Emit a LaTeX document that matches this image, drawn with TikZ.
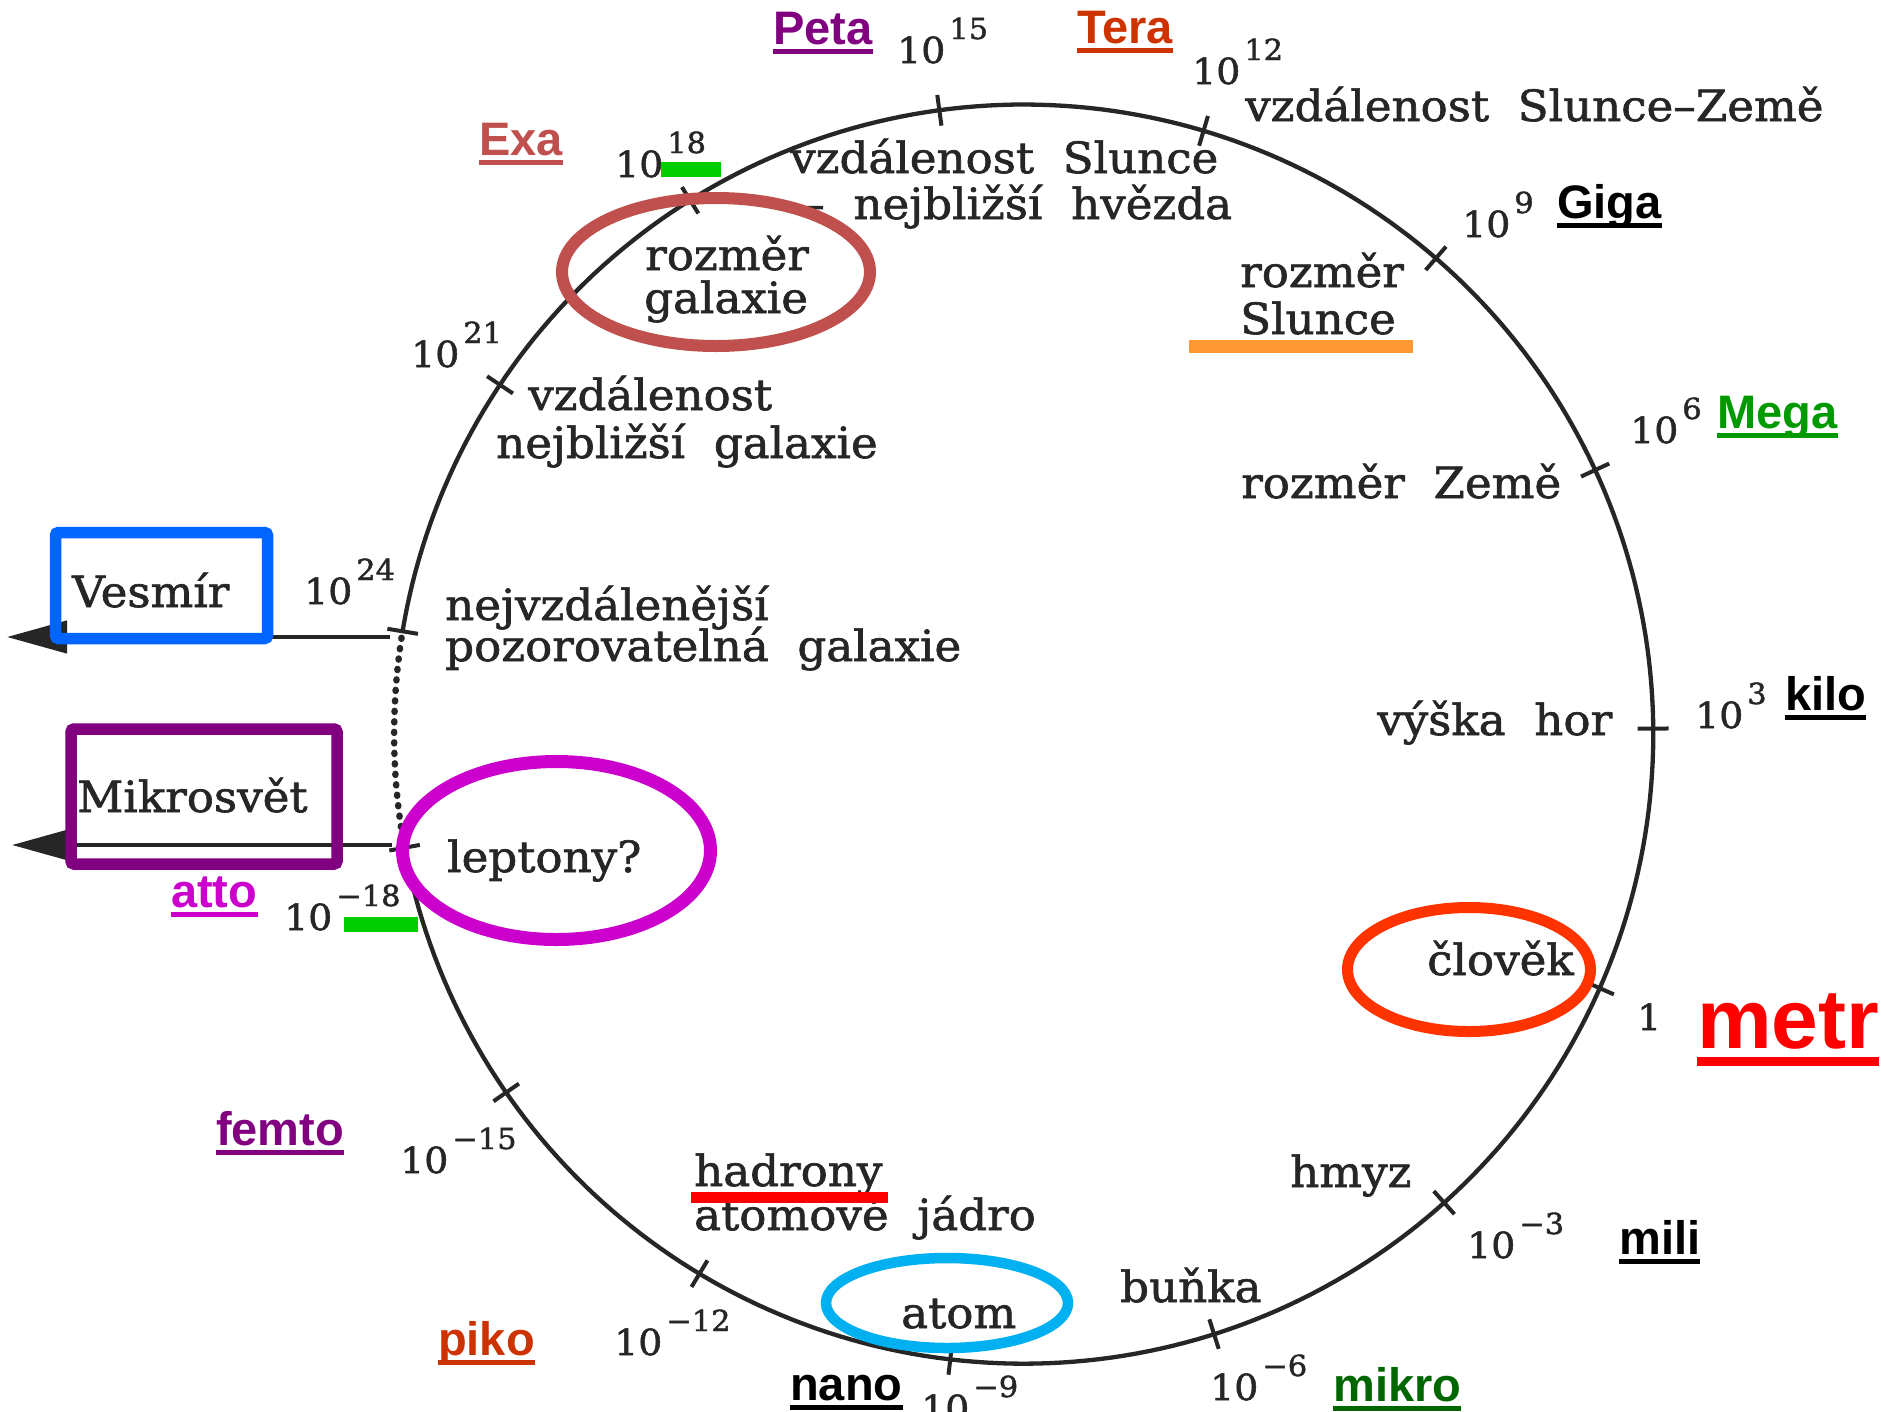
\documentclass[tikz,border=0pt]{standalone}
\usepackage{fontspec}
\setmainfont{DejaVu Serif}[WordSpace=2, FakeStretch=1.05, FakeBold=1.5]
\newfontfamily\pfxfont{Liberation Sans}
\usetikzlibrary{arrows.meta,calc}

\definecolor{ink}{HTML}{262626}
\definecolor{cpeta}{HTML}{800080}
\definecolor{ctera}{HTML}{CC3300}
\definecolor{cexa}{HTML}{C0504D}
\definecolor{cmega}{HTML}{009900}
\definecolor{cmikro}{HTML}{006600}
\definecolor{catto}{HTML}{CC00CC}
\definecolor{cmetr}{HTML}{FF0000}
\definecolor{cclovek}{HTML}{FF3300}
\definecolor{catom}{HTML}{00B0F0}
\definecolor{cvesmir}{HTML}{0066FF}
\definecolor{cgreen}{HTML}{00CC00}
\definecolor{corange}{HTML}{FF9933}

% power of ten with a raised exponent
\newcommand\tenpow[1]{10\kern4pt\raisebox{24pt}{\fontsize{29}{29}\selectfont #1}}
% SI prefix label with its underline
\newcommand\sipref[5]{%
  \node[sipfx=#2] (#1) at (#3,#4) {#5};
  \draw[uline=#2] ([yshift=-7pt]#1.base west) -- ([yshift=-7pt]#1.base east);}

\begin{document}
\begin{tikzpicture}[x=1pt,y=-1pt,
  ring/.style={draw=ink, line width=4.3pt},
  tickmark/.style={draw=ink, line width=4pt},
  dotring/.style={draw=ink, line width=6.5pt, line cap=round, dash pattern=on 1pt off 9.5pt},
  pointer/.style={draw=ink, line width=4.4pt, -{Triangle[length=60pt,width=32pt]}},
  gtext/.style={inner sep=0pt, anchor=base west, text=ink, font=\fontsize{43}{46}\selectfont},
  power/.style={inner sep=0pt, anchor=base west, text=ink, font=\fontsize{36}{40}\selectfont},
  sipfx/.style={inner sep=0pt, anchor=base west, text=#1, font=\pfxfont\bfseries\fontsize{47}{50}\selectfont},
  uline/.style={draw=#1, line width=5pt},
  ringmark/.style={draw=#1, line width=12pt},
  framebox/.style={draw=#1, line width=11.5pt, rounded corners=3pt},
  hlbar/.style={fill=#1}]

\fill[white] (0,0) rectangle (1884,1411);
\useasboundingbox (0,0) rectangle (1884,1411);
\clip (0,0) rectangle (1884,1411);

% the scale circle
\coordinate (C) at (1023.7,734.1);
\draw[ring] plot[domain=-170.6:169.6, samples=300] ({1023.7+629.6*cos(\x)},{734.1+629.6*sin(\x)});
\draw[dotring] (C) ++(169.6:629.6) arc[start angle=169.6, end angle=189.4, radius=629.6];
\foreach \k in {0,...,14}{
  \pgfmathsetmacro\ang{-0.5-24.3*(\k-7)}
  \coordinate (t\k) at ($(C)+(\ang:629.6)$);
  \draw[tickmark] ($(C)+(\ang:614)$) -- ($(C)+(\ang:645)$);
}

% arrows leaving the circle
\coordinate (vesFrom) at (390,637);
\coordinate (vesTo) at (7,637);
\coordinate (mikFrom) at (392,845);
\coordinate (mikTo) at (12,845);
\draw[pointer] (vesFrom) -- (vesTo);
\draw[pointer] (mikFrom) -- (mikTo);

% powers of ten
\node[power] (p15) at (897,63) {\tenpow{15}};
\node[power] (p12) at (1192,84) {\tenpow{12}};
\node[power] (p9) at (1462,237) {\tenpow{9}};
\node[power] (p6) at (1630,443) {\tenpow{6}};
\node[power] (p3) at (1695,728) {\tenpow{3}};
\node[power] (p0) at (1637,1030) {1};
\node[power] (pm3) at (1467,1258) {\tenpow{−3}};
\node[power] (pm6) at (1210,1400) {\tenpow{−6}};
\node[power] (pm9) at (921,1421) {\tenpow{−9}};
\node[power] (pm12) at (614,1355) {\tenpow{−12}};
\node[power] (pm15) at (400,1173) {\tenpow{−15}};
\node[power] (pm18) at (284,930) {\tenpow{−18}};
\node[power] (p24) at (304,604) {\tenpow{24}};
\node[power] (p21) at (411,367) {\tenpow{21}};
\node[power] (p18) at (615,177) {\tenpow{18}};

% objects on the scale
\node[gtext] (sunearth) at (1245,121) {vzdálenost Slunce–Země};
\node[gtext] (sunstar1) at (790,173) {vzdálenost Slunce};
\node[gtext] (sunstar2) at (802,219) {– nejbližší hvězda};
\node[gtext] (gal1) at (645,270) {rozměr};
\node[gtext] (gal2) at (644,313) {galaxie};
\node[gtext] (ngal1) at (528,410) {vzdálenost};
\node[gtext] (ngal2) at (496,458) {nejbližší galaxie};
\node[gtext] (far1) at (445,620) {nejvzdálenější};
\node[gtext] (far2) at (445,661) {pozorovatelná galaxie};
\node[gtext] (vesmir) at (72,607) {Vesmír};
\node[gtext] (mikro) at (77,812) {Mikrosvět};
\node[gtext] (lepton) at (447,872) {leptony?};
\node[gtext] (hadron) at (694,1186) {hadrony};
\node[gtext] (nucl) at (694,1230) {atomové jádro};
\node[gtext] (atom) at (901,1328) {atom};
\node[gtext] (cell) at (1120,1302) {buňka};
\node[gtext] (insect) at (1290,1187) {hmyz};
\node[gtext] (human) at (1427,975) {člověk};
\node[gtext] (mount) at (1377,735) {výška hor};
\node[gtext] (earth) at (1241,498) {rozměr Země};
\node[gtext] (sun1) at (1240,287) {rozměr};
\node[gtext] (sun2) at (1240,334) {Slunce};

% highlight bars
\fill[hlbar=cgreen] (661,162) rectangle (721,177);
\fill[hlbar=cgreen] (344,917) rectangle (418,932);
\fill[hlbar=corange] (1189,340) rectangle (1413,353);
\fill[hlbar=cmetr] (691,1192) rectangle (888,1203);

% frames and rings
\draw[framebox=cvesmir] (55.5,532.5) rectangle (267.5,638.5);
\draw[framebox=cpeta] (71,729) rectangle (337,864);
\draw[ringmark=cexa] (716,272) ellipse [x radius=154, y radius=74];
\draw[ringmark=catto, line width=13pt] (556.5,850.5) ellipse [x radius=154, y radius=89];
\draw[ringmark=cclovek, line width=11pt] (1469,969.5) ellipse [x radius=121.5, y radius=62];
\draw[ringmark=catom, line width=10.5pt] (947,1303) ellipse [x radius=121, y radius=45];

% SI prefixes
\sipref{peta}{cpeta}{773}{44}{Peta}
\sipref{tera}{ctera}{1077}{43}{Tera}
\sipref{exa}{cexa}{479}{155}{Exa}
\sipref{giga}{black}{1557}{218}{Giga}
\sipref{mega}{cmega}{1717}{428}{Mega}
\sipref{kilo}{black}{1785}{710}{kilo}
\sipref{mili}{black}{1619}{1254}{mili}
\sipref{mikr}{cmikro}{1333}{1401}{mikro}
\sipref{nano}{black}{790}{1400}{nano}
\sipref{piko}{ctera}{438}{1355}{piko}
\sipref{femto}{cpeta}{216}{1145}{femto}
\sipref{atto}{catto}{171}{907}{atto}
\node[sipfx=cmetr, font=\pfxfont\bfseries\fontsize{84}{86}\selectfont] (metr) at (1697,1048) {metr};
\draw[uline=cmetr, line width=9pt] ([yshift=-13pt]metr.base west) -- ([yshift=-13pt]metr.base east);
\end{tikzpicture}
\end{document}
